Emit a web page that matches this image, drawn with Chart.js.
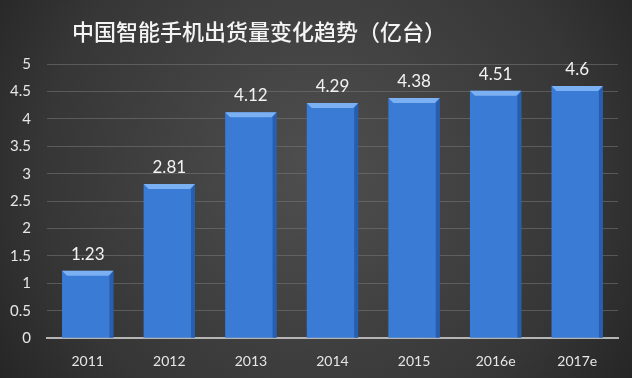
<!DOCTYPE html>
<html>
<head>
<meta charset="utf-8">
<script src="https://cdn.jsdelivr.net/npm/chart.js@4"></script>
<style>
  html, body { margin: 0; padding: 0; background: #2b2b2b; }
  #wrap { width: 632px; height: 378px; position: relative; }
</style>
</head>
<body>
<div id="wrap"><canvas id="chart" width="632" height="378"></canvas></div>
<script>
const years = ["2011", "2012", "2013", "2014", "2015", "2016e", "2017e"];
const shipments = [1.23, 2.81, 4.12, 4.29, 4.38, 4.51, 4.6];
const valueLabels = ["1.23", "2.81", "4.12", "4.29", "4.38", "4.51", "4.6"];
const titleText = "中国智能手机出货量变化趋势（亿台）";

const numFont = "Lato, 'Open Sans', sans-serif";

// dark radial backdrop + title
const backdrop = {
  id: "backdrop",
  beforeDraw(chart) {
    const { ctx, width, height } = chart;
    ctx.save();
    const g = ctx.createRadialGradient(width * 0.5, height * 0.45, 20, width * 0.5, height * 0.45, width * 0.7);
    g.addColorStop(0, "#4d4d4d");
    g.addColorStop(0.6, "#363636");
    g.addColorStop(1, "#1c1c1c");
    ctx.fillStyle = g;
    ctx.fillRect(0, 0, width, height);
    ctx.fillStyle = "#f4f4f4";
    ctx.font = "500 22px 'Noto Sans CJK SC'";
    ctx.textAlign = "center";
    ctx.textBaseline = "middle";
    ctx.fillText(titleText, 259, 32);
    ctx.restore();
  },
};

// bevel highlight on top of each bar + value labels
const barDecor = {
  id: "barDecor",
  afterDatasetsDraw(chart) {
    const { ctx } = chart;
    const meta = chart.getDatasetMeta(0);
    ctx.save();
    meta.data.forEach((bar, i) => {
      const half = bar.width / 2;
      const left = bar.x - half;
      const right = bar.x + half;
      const top = bar.y;
      // top bevel
      ctx.beginPath();
      ctx.moveTo(left, top);
      ctx.lineTo(right, top);
      ctx.lineTo(right - 5, top + 5);
      ctx.lineTo(left + 5, top + 5);
      ctx.closePath();
      ctx.fillStyle = "rgba(140, 190, 250, 0.8)";
      ctx.fill();
      // side shading
      ctx.beginPath();
      ctx.moveTo(right, top);
      ctx.lineTo(right, bar.base);
      ctx.lineTo(right - 4, bar.base);
      ctx.lineTo(right - 4, top + 5);
      ctx.closePath();
      ctx.fillStyle = "rgba(20, 60, 130, 0.45)";
      ctx.fill();

      ctx.fillStyle = "#f2f2f2";
      ctx.font = "17px " + numFont;
      ctx.textAlign = "center";
      ctx.textBaseline = "bottom";
      ctx.fillText(valueLabels[i], bar.x, top - 8);
    });
    ctx.restore();
  },
};

const ctx = document.getElementById("chart").getContext("2d");

new Chart(ctx, {
  type: "bar",
  data: {
    labels: years,
    datasets: [
      {
        data: shipments,
        backgroundColor: (c) => {
          const el = c.element;
          if (!c.chart.chartArea || !el || !el.width) return "#3a7bd5";
          const g = c.chart.ctx.createLinearGradient(el.x - el.width / 2, 0, el.x + el.width / 2, 0);
          g.addColorStop(0, "#3f86e0");
          g.addColorStop(0.5, "#3a7ad2");
          g.addColorStop(1, "#2f68bb");
          return g;
        },
        borderWidth: 0,
        barPercentage: 0.63,
        categoryPercentage: 1,
      },
    ],
  },
  options: {
    responsive: false,
    animation: false,
    layout: {
      padding: { top: 64, right: 14, left: -6, bottom: -7 },
    },
    plugins: {
      legend: { display: false },
      tooltip: { enabled: false },
    },
    scales: {
      x: {
        grid: { display: false, drawTicks: false },
        border: { color: "#b5b5b5", width: 2 },
        ticks: {
          color: "#e6e6e6",
          font: { size: 14, family: numFont },
          padding: 15,
        },
      },
      y: {
        min: 0,
        max: 5,
        ticks: {
          stepSize: 0.5,
          color: "#e6e6e6",
          font: { size: 15, family: numFont },
          padding: 16,
          callback: (v) => String(v),
        },
        grid: { color: "rgba(120,120,120,0.55)", drawTicks: false },
        border: { display: false },
      },
    },
  },
  plugins: [backdrop, barDecor],
});
</script>
</body>
</html>
